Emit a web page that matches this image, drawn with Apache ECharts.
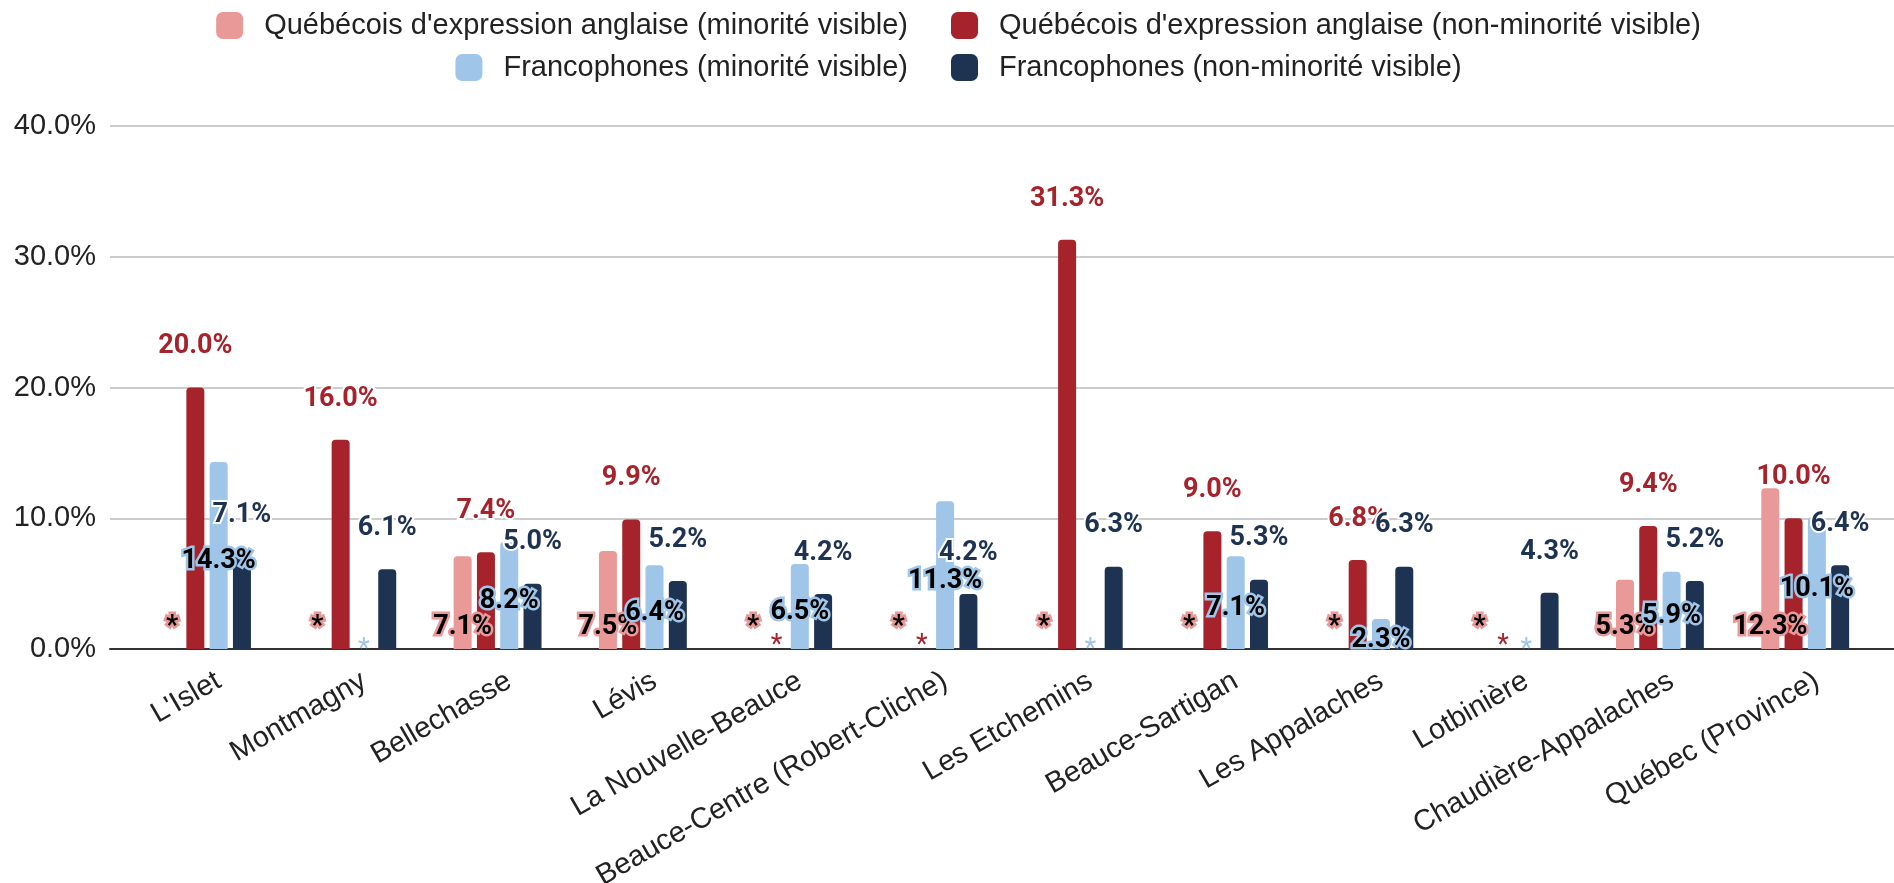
<!DOCTYPE html>
<html>
<head>
<meta charset="utf-8">
<script src="https://cdn.jsdelivr.net/npm/echarts@6/dist/echarts.min.js"></script>
<style>
  html, body { margin: 0; padding: 0; background: #fff; }
  #chart { width: 1894px; height: 883px; }
</style>
</head>
<body>
<div id="chart"></div>
<script>
// catégories (MRC)
const categories = ["L'Islet", 'Montmagny', 'Bellechasse', 'Lévis', 'La Nouvelle-Beauce',
  'Beauce-Centre (Robert-Cliche)', 'Les Etchemins', 'Beauce-Sartigan', 'Les Appalaches',
  'Lotbinière', 'Chaudière-Appalaches', 'Québec (Province)']

const seriesNames = [
  "Québécois d'expression anglaise (minorité visible)",
  "Québécois d'expression anglaise (non-minorité visible)",
  'Francophones (minorité visible)',
  'Francophones (non-minorité visible)'
]

// null = donnée non disponible, affichée avec *
const angloMinVis = [null, null, 7.1, 7.5, null, null, null, null, null, null, 5.3, 12.3]
const angloNonMinVis = [20.0, 16.0, 7.4, 9.9, null, null, 31.3, 9.0, 6.8, null, 9.4, 10.0]
const francoMinVis = [14.3, null, 8.2, 6.4, 6.5, 11.3, null, 7.1, 2.3, null, 5.9, 10.1]
const francoNonMinVis = [7.1, 6.1, 5.0, 5.2, 4.2, 4.2, 6.3, 5.3, 6.3, 4.3, 5.2, 6.4]

const yTicks = [0, 10, 20, 30, 40]

const colors = ['#ea9999', '#a6232b', '#9fc5e8', '#1e3252']

const chart = echarts.init(document.getElementById('chart'))

const axisFont = { fontFamily: 'Liberation Sans', fontSize: 29, color: '#222' }
const labelFont = { fontFamily: 'Roboto', fontSize: 27, fontWeight: 'bold', lineHeight: 30 }

function fmt(values) {
  return p => values[p.dataIndex] === null ? '*' : values[p.dataIndex].toFixed(1) + '%'
}

// valeur manquante -> barre de hauteur 0 qui porte l'étoile
function toData(values, missingLabel) {
  return values.map(v => v === null ? { value: 0, label: missingLabel } : v)
}

function barSeries(i, values, label, missingLabel) {
  return {
    name: seriesNames[i],
    type: 'bar',
    xAxisIndex: 1,
    yAxisIndex: 1,
    barWidth: 18,
    barGap: '29.4%',
    itemStyle: { color: colors[i], borderRadius: [4, 4, 0, 0] },
    label: Object.assign({ show: true, formatter: fmt(values) }, labelFont, label),
    data: toData(values, missingLabel)
  }
}

function legendItem(i, pos) {
  return Object.assign({
    data: [seriesNames[i]],
    icon: 'roundRect',
    itemWidth: 27,
    itemHeight: 27,
    padding: 0,
    selectedMode: false,
    textStyle: { fontFamily: 'Liberation Sans', fontSize: 29, color: '#222', padding: [0, 0, 0, 16] }
  }, pos)
}

chart.setOption({
  animation: false,
  color: colors,
  legend: [
    legendItem(0, { right: 986, top: 11 }),
    legendItem(1, { left: 951, top: 11 }),
    legendItem(2, { right: 986, top: 53 }),
    legendItem(3, { left: 951, top: 53 })
  ],
  grid: [
    { left: 110, right: 0, top: 126, bottom: 234, outerBoundsMode: 'none' },
    { left: 146, right: 4.5, top: 126, bottom: 234, outerBoundsMode: 'none' }
  ],
  xAxis: [
    {
      gridIndex: 0,
      type: 'category',
      data: categories,
      axisLine: { lineStyle: { color: '#333', width: 2 } },
      axisTick: { show: false },
      axisLabel: { show: false }
    },
    {
      gridIndex: 1,
      type: 'category',
      data: categories,
      axisLine: { show: false },
      axisTick: { show: false },
      axisLabel: Object.assign({ rotate: 30, margin: 30, interval: 0 }, axisFont)
    }
  ],
  yAxis: [
    {
      gridIndex: 0,
      type: 'value',
      min: yTicks[0],
      max: yTicks[yTicks.length - 1],
      interval: 10,
      axisLabel: Object.assign({ margin: 14, formatter: v => v.toFixed(1) + '%' }, axisFont),
      splitLine: { lineStyle: { color: '#cccccc', width: 2 } }
    },
    {
      gridIndex: 1,
      type: 'value',
      min: yTicks[0],
      max: yTicks[yTicks.length - 1],
      interval: 10,
      show: false,
      splitLine: { show: false }
    }
  ],
  series: [
    barSeries(0, angloMinVis,
      { position: 'insideBottom', distance: 7, color: '#000', textBorderColor: colors[0], textBorderWidth: 5 },
      null),
    barSeries(1, angloNonMinVis,
      { position: 'top', distance: 26, color: colors[1], textBorderColor: '#fff', textBorderWidth: 4 },
      { position: 'inside', offset: [0, -3], fontWeight: 'normal', textBorderWidth: 0 }),
    barSeries(2, francoMinVis,
      { position: 'inside', offset: [0, 6], color: '#000', textBorderColor: colors[2], textBorderWidth: 5 },
      { position: 'inside', offset: [0, 1], color: colors[2], fontWeight: 'normal', textBorderWidth: 0 }),
    barSeries(3, francoNonMinVis,
      { position: 'top', distance: 26, color: colors[3], textBorderColor: '#fff', textBorderWidth: 4 },
      null),
    // emplacement vide à droite du groupe
    {
      type: 'bar',
      xAxisIndex: 1,
      yAxisIndex: 1,
      barWidth: 18,
      barGap: '29.4%',
      data: categories.map(() => null)
    }
  ]
})
</script>
</body>
</html>
